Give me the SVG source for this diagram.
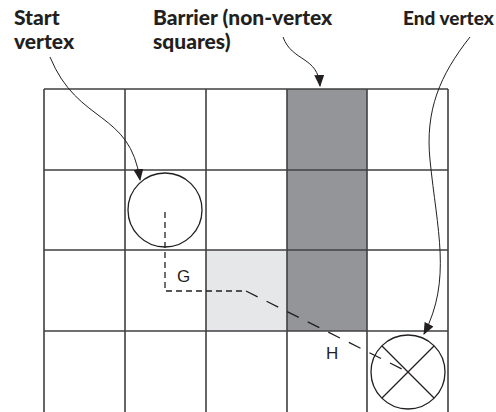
<svg xmlns="http://www.w3.org/2000/svg" width="496" height="412" viewBox="0 0 496 412">
<style>
.title{font-family:Lato,"Liberation Sans",sans-serif;font-weight:900;font-size:21px;fill:#231f20}
.lbl{font-family:"Liberation Sans",Arial,sans-serif;font-size:17px;fill:#231f20}
.grid{stroke:#414042;stroke-width:1.6;fill:none}
.shape{stroke:#231f20;stroke-width:1.3;fill:none}
.conn{stroke:#231f20;stroke-width:1;fill:none}
.path{stroke:#231f20;stroke-width:1.3;fill:none}
</style>
<defs>
<marker id="ah" viewBox="0 0 12 10" refX="11" refY="5" markerWidth="12" markerHeight="10" markerUnits="userSpaceOnUse" orient="auto">
<path d="M0,0 L12,5 L0,10 z" fill="#231f20"/>
</marker>
</defs>
<g id="cells">
<rect x="287" y="89" width="80" height="242" fill="#939598"/>
<rect x="206" y="250" width="81" height="81" fill="#e6e7e8"/>
</g>
<g id="grid" class="grid">
<path d="M44,89 H448 M44,170 H448 M44,250 H448 M44,331 H448"/>
<path d="M44,89 V412 M125,89 V412 M206,89 V412 M287,89 V412 M367,89 V412 M448,89 V412"/>
</g>
<g id="start-vertex">
<circle class="shape" cx="165" cy="210" r="37"/>
</g>
<g id="end-vertex">
<circle class="shape" cx="408" cy="372" r="37"/>
<path class="shape" d="M382,346 L434,398 M434,346 L382,398"/>
</g>
<g id="route">
<path class="path" d="M165,212 V291 H246" stroke-dasharray="6,4"/>
<path class="path" d="M246,291 L408,372" stroke-dasharray="13,10"/>
<text class="lbl" x="177" y="282">G</text>
<text class="lbl" x="326" y="359">H</text>
</g>
<g id="labels">
<text class="title" x="14" y="25">Start</text>
<text class="title" x="14" y="49">vertex</text>
<text class="title" x="153" y="25">Barrier (non-vertex</text>
<text class="title" x="153" y="49">squares)</text>
<text class="title" x="403" y="25" style="font-size:19px">End vertex</text>
</g>
<g id="connectors">
<path class="conn" d="M50,57 C78,125 130,110 140,180" marker-end="url(#ah)"/>
<path class="conn" d="M283,37 C292,62 318,56 320,86" marker-end="url(#ah)"/>
<path class="conn" d="M470,37 C440,75 425,110 430,160 C437,230 452,280 424,334" marker-end="url(#ah)"/>
</g>
</svg>
